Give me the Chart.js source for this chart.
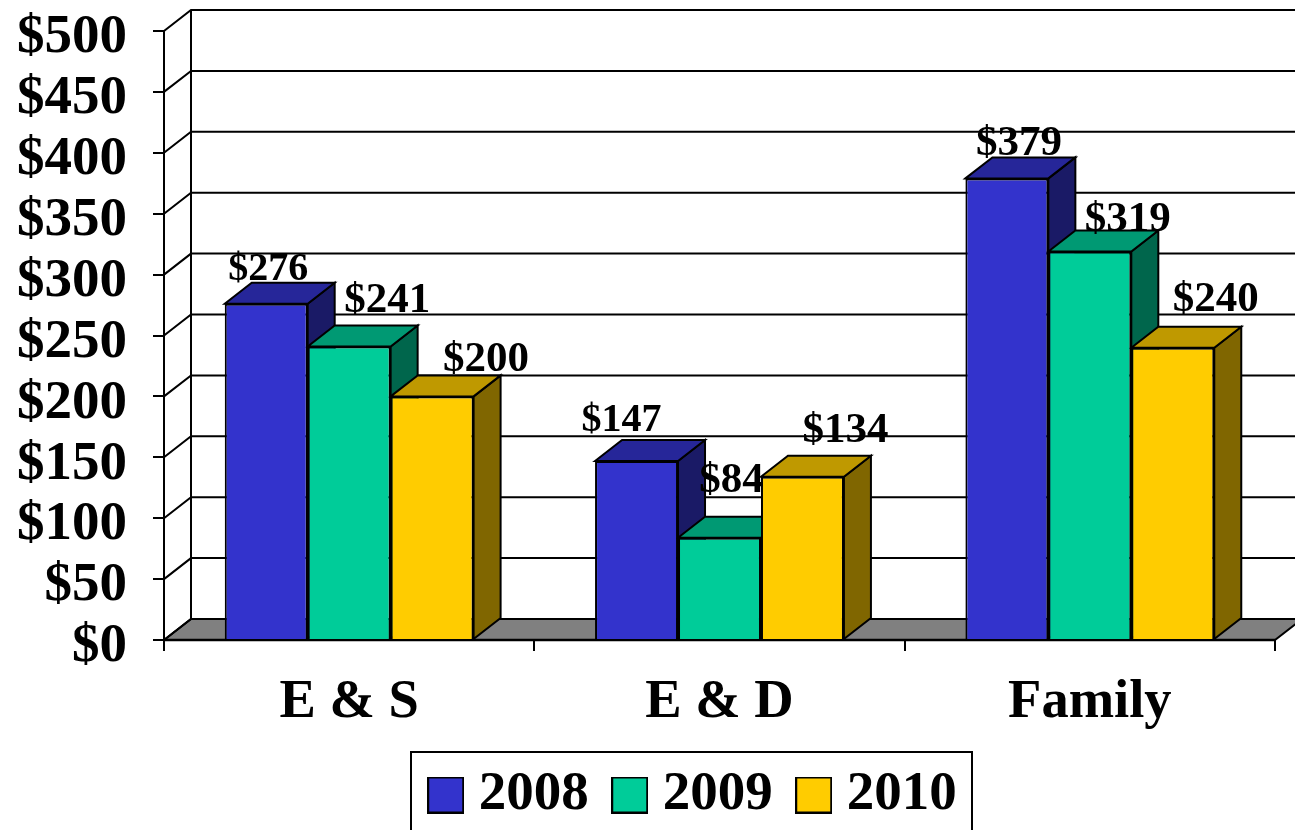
<!DOCTYPE html>
<html>
<head>
<meta charset="utf-8">
<style>html,body{margin:0;padding:0;background:#fff}canvas{display:block}</style>
<script src="https://cdn.jsdelivr.net/npm/chart.js@4"></script>
</head>
<body>
<canvas id="c" width="1295" height="830"></canvas>
<script>
const categories = ['E & S', 'E & D', 'Family'];
const years = ['2008', '2009', '2010'];
const values2008 = [276, 147, 379];
const values2009 = [241, 84, 319];
const values2010 = [200, 134, 240];
const yTicksMax = 500;
const yTicksStep = 50;

const frontColors = ['#3333CC', '#00CC99', '#FFCC00'];
const topColors = ['#262699', '#009973', '#BF9900'];
const sideColors = ['#1A1A66', '#00664C', '#806600'];

const serif = '"Liberation Serif", "Times New Roman", serif';
const depthX = 27, depthY = 21;
// label placement relative to each bar's top centre, per dataset then category
const labelShift = [
  [[2, -34], [-15, -40], [12, -34]],
  [[38, -46], [12, -57], [38, -32]],
  [[54, -37], [43, -46], [43, -48]]
];
const labelSize = [
  [40, 40, 43],
  [43, 43, 43],
  [43, 43, 43]
];

function poly(ctx, pts, fill) {
  ctx.beginPath();
  pts.forEach((p, i) => i ? ctx.lineTo(p[0], p[1]) : ctx.moveTo(p[0], p[1]));
  ctx.closePath();
  if (fill) { ctx.fillStyle = fill; ctx.fill(); }
  ctx.stroke();
}

function swatch(color) {
  const c = document.createElement('canvas');
  c.width = 37; c.height = 37;
  const g = c.getContext('2d');
  g.fillStyle = color;
  g.fillRect(1, 1, 35, 35);
  g.strokeStyle = '#000';
  g.lineWidth = 2;
  g.strokeRect(1, 1, 35, 35);
  return c;
}
const swatches = frontColors.map(swatch);

const scene = {
  id: 'scene',
  afterLayout(chart) {
    const lg = chart.legend;
    lg.top = 732;
    lg.left += 61;
    lg.right += 61;
  },
  beforeDraw(chart) {
    const ctx = chart.ctx;
    ctx.save();
    ctx.lineWidth = 2;
    ctx.strokeStyle = '#000';
    ctx.strokeRect(411, 752, 561, 110);
    ctx.restore();
  },
  beforeDatasetsDraw(chart) {
    const ctx = chart.ctx, y = chart.scales.y, a = chart.chartArea;
    ctx.save();
    ctx.strokeStyle = '#000';
    ctx.lineWidth = 2;
    const wallL = a.left + depthX, wallR = a.right + depthX;
    const y0 = y.getPixelForValue(0);
    poly(ctx, [[a.left, y0], [wallL, y0 - depthY], [wallR, y0 - depthY], [a.right, y0]], '#808080');
    y.ticks.forEach(t => {
      const py = y.getPixelForValue(t.value);
      ctx.beginPath();
      ctx.moveTo(a.left, py);
      ctx.lineTo(wallL, py - depthY);
      ctx.lineTo(wallR, py - depthY);
      ctx.stroke();
    });
    ctx.beginPath();
    ctx.moveTo(wallL, y.getPixelForValue(yTicksMax) - depthY);
    ctx.lineTo(wallL, y0 - depthY);
    ctx.stroke();
    ctx.lineWidth = 2.5;
    ctx.beginPath();
    ctx.moveTo(a.left, y0);
    ctx.lineTo(a.right, y0);
    ctx.stroke();
    ctx.lineWidth = 2;
    chart.data.datasets.forEach((ds, i) => {
      chart.getDatasetMeta(i).data.forEach(bar => {
        const l = bar.x - bar.width / 2, r = bar.x + bar.width / 2;
        const t = bar.y, b = bar.base;
        poly(ctx, [[r, t], [r + depthX, t - depthY], [r + depthX, b - depthY], [r, b]], sideColors[i]);
        poly(ctx, [[l, t], [l + depthX, t - depthY], [r + depthX, t - depthY], [r, t]], topColors[i]);
      });
    });
    ctx.restore();
  },
  afterDatasetsDraw(chart) {
    const ctx = chart.ctx;
    ctx.save();
    ctx.fillStyle = '#000';
    ctx.textAlign = 'center';
    ctx.textBaseline = 'middle';
    chart.data.datasets.forEach((ds, i) => {
      chart.getDatasetMeta(i).data.forEach((bar, j) => {
        const s = labelShift[i][j];
        ctx.font = 'bold ' + labelSize[i][j] + 'px ' + serif;
        ctx.fillText('$' + ds.data[j], bar.x + s[0], bar.y + s[1]);
      });
    });
    ctx.restore();
  }
};

new Chart(document.getElementById('c'), {
  type: 'bar',
  data: {
    labels: categories,
    datasets: [
      { label: years[0], data: values2008 },
      { label: years[1], data: values2009 },
      { label: years[2], data: values2010 }
    ].map((d, i) => Object.assign(d, {
      backgroundColor: frontColors[i],
      borderColor: '#000',
      borderWidth: 2,
      categoryPercentage: 0.672,
      barPercentage: 1
    }))
  },
  options: {
    responsive: false,
    animation: false,
    devicePixelRatio: 1,
    layout: { padding: { top: 31, right: 20, left: 0, bottom: -100.5 } },
    plugins: {
      title: { display: false },
      tooltip: { enabled: false },
      legend: {
        position: 'bottom',
        labels: {
          usePointStyle: true,
          pointStyleWidth: 11,
          boxHeight: 36,
          padding: 35.5,
          color: '#000',
          font: { family: serif, weight: 'bold', size: 55 },
          generateLabels(chart) {
            return Chart.defaults.plugins.legend.labels.generateLabels(chart)
              .map((it, i) => Object.assign(it, { pointStyle: swatches[i] }));
          }
        }
      }
    },
    scales: {
      x: {
        afterFit(s) { s.height = 190; s.paddingLeft = 0; s.paddingRight = 0; },
        grid: { offset: true, drawOnChartArea: false, drawTicks: true, tickLength: 11, color: '#000', lineWidth: 2 },
        border: { display: true, color: '#000', width: 2 },
        ticks: { color: '#000', padding: 19, maxRotation: 0, autoSkip: false,
                 font: { family: serif, weight: 'bold', size: 54.5 } }
      },
      y: {
        min: 0,
        max: yTicksMax,
        afterFit(s) { s.width = 164; s.paddingTop = 0; s.paddingBottom = 0; },
        grid: { drawOnChartArea: false, drawTicks: true, tickLength: 11, color: '#000', lineWidth: 2 },
        border: { display: true, color: '#000', width: 2 },
        ticks: { stepSize: yTicksStep, color: '#000', padding: 26, labelOffset: 7, autoSkip: false,
                 font: { family: serif, weight: 'bold', size: 55 },
                 callback: v => '$' + v }
      }
    }
  },
  plugins: [scene]
});
</script>
</body>
</html>
